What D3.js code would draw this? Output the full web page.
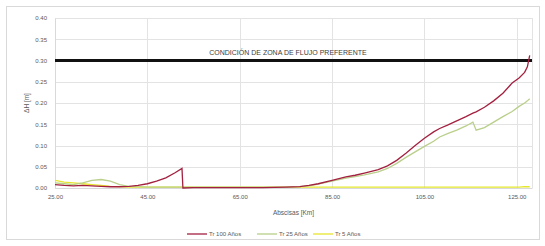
<!DOCTYPE html>
<html>
<head>
<meta charset="utf-8">
<script src="https://cdn.jsdelivr.net/npm/d3@7"></script>
<style>
  html, body { margin: 0; padding: 0; background: #fff; }
  svg { display: block; font-family: "Liberation Sans", Arial, sans-serif; }
</style>
</head>
<body>
<svg id="chart" width="545" height="246"></svg>
<script>
// abscisas (km)
const km = [25, 27, 29, 31, 33, 35, 37, 39, 41, 43, 45, 47, 49, 51, 52.5, 52.7,
  55, 60, 65, 70, 75, 78, 80, 82, 85, 88, 90, 92, 95, 97, 99, 101, 103, 105, 107,
  108.3, 110, 112, 114, 115.5, 116.2, 118, 120, 122, 124, 125.5, 126.7, 127.3, 127.8];

const tr100 = [0.008, 0.006, 0.005, 0.006, 0.005, 0.004, 0.003, 0.003, 0.004, 0.006, 0.010, 0.016, 0.024, 0.036, 0.046, 0.000,
  0.001, 0.001, 0.001, 0.001, 0.002, 0.003, 0.006, 0.010, 0.018, 0.026, 0.030, 0.035, 0.043, 0.052, 0.065, 0.082, 0.100, 0.117, 0.132,
  0.140, 0.148, 0.158, 0.168, 0.176, 0.179, 0.190, 0.205, 0.223, 0.247, 0.259, 0.272, 0.285, 0.312];

const tr25 = [0.012, 0.010, 0.008, 0.012, 0.018, 0.020, 0.016, 0.008, 0.004, 0.003, 0.002, 0.002, 0.002, 0.002, 0.002, 0.002,
  0.002, 0.002, 0.002, 0.002, 0.002, 0.003, 0.005, 0.009, 0.016, 0.023, 0.027, 0.031, 0.038, 0.046, 0.058, 0.072, 0.085, 0.098, 0.110,
  0.120, 0.128, 0.136, 0.146, 0.155, 0.136, 0.142, 0.155, 0.168, 0.180, 0.192, 0.200, 0.205, 0.210];

const tr5 = [0.018, 0.014, 0.012, 0.010, 0.008, 0.006, 0.004, 0.003, 0.002, 0.002, 0.002, 0.002, 0.002, 0.002, 0.002, 0.002,
  0.002, 0.002, 0.002, 0.002, 0.002, 0.002, 0.002, 0.002, 0.002, 0.002, 0.002, 0.002, 0.002, 0.002, 0.002, 0.002, 0.002, 0.002, 0.002,
  0.002, 0.002, 0.002, 0.002, 0.002, 0.002, 0.002, 0.002, 0.002, 0.002, 0.002, 0.003, 0.003, 0.003];

const xTicks = [25, 45, 65, 85, 105, 125];
const yTicks = [0, 0.05, 0.10, 0.15, 0.20, 0.25, 0.30, 0.35, 0.40];
const limite = 0.30;

const series = [
  { name: "Tr 100 Años", values: tr100, color: "#a3203f" },
  { name: "Tr 25 Años", values: tr25, color: "#b9cf8a" },
  { name: "Tr 5 Años", values: tr5, color: "#e6e62e" }
];

const svg = d3.select("#chart");
const mLeft = 55, mRight = 532, mTop = 18, mBottom = 188;

const x = d3.scaleLinear().domain([25, 128.3]).range([mLeft, mRight]);
const y = d3.scaleLinear().domain([0, 0.40]).range([mBottom, mTop]);

// marco exterior
svg.append("rect")
  .attr("x", 6.5).attr("y", 6.5).attr("width", 533).attr("height", 233)
  .attr("fill", "none").attr("stroke", "#d9d9d9");

// cuadricula
svg.append("g").selectAll("line")
  .data(yTicks).enter().append("line")
  .attr("x1", mLeft).attr("x2", mRight)
  .attr("y1", d => Math.round(y(d)) + 0.5).attr("y2", d => Math.round(y(d)) + 0.5)
  .attr("stroke", "#e3e3e3");

svg.append("g").selectAll("line")
  .data(xTicks.concat([128.3])).enter().append("line")
  .attr("y1", mTop).attr("y2", mBottom)
  .attr("x1", d => Math.round(x(d)) + 0.5).attr("x2", d => Math.round(x(d)) + 0.5)
  .attr("stroke", "#e3e3e3");

// ejes
const yAxis = svg.append("g")
  .attr("transform", `translate(${mLeft},0)`)
  .call(d3.axisLeft(y).tickValues(yTicks).tickFormat(d3.format(".2f")).tickSize(0).tickPadding(8));
const xAxis = svg.append("g")
  .attr("transform", `translate(0,${mBottom})`)
  .call(d3.axisBottom(x).tickValues(xTicks).tickFormat(d3.format(".2f")).tickSize(0).tickPadding(7));
[yAxis, xAxis].forEach(g => {
  g.select(".domain").attr("stroke", "#d9d9d9");
  g.selectAll("text").attr("fill", "#595959").style("font-size", "6px");
});

// titulos de ejes
svg.append("text")
  .attr("x", (mLeft + mRight) / 2).attr("y", 215)
  .attr("text-anchor", "middle").attr("fill", "#595959").style("font-size", "6.5px")
  .text("Abscisas [Km]");
svg.append("text")
  .attr("transform", `translate(29,${(mTop + mBottom) / 2}) rotate(-90)`)
  .attr("text-anchor", "middle").attr("fill", "#595959").style("font-size", "6.5px")
  .text("ΔH [m]");

// linea de condicion
svg.append("line")
  .attr("x1", mLeft).attr("x2", mRight)
  .attr("y1", y(limite)).attr("y2", y(limite))
  .attr("stroke", "#111").attr("stroke-width", 3);
svg.append("text")
  .attr("x", 288).attr("y", 55)
  .attr("text-anchor", "middle").attr("fill", "#404040").style("font-size", "7px")
  .text("CONDICIÓN DE ZONA DE FLUJO PREFERENTE");

// series
const line = d3.line()
  .x((d, i) => x(km[i]))
  .y(d => y(d));

svg.append("g").selectAll("path")
  .data(series.slice().reverse()).enter().append("path")
  .attr("d", d => line(d.values))
  .attr("fill", "none")
  .attr("stroke", d => d.color)
  .attr("stroke-width", 1.3);

// leyenda
const legendX = [187, 257, 313];
const legend = svg.append("g").selectAll("g")
  .data(series).enter().append("g")
  .attr("transform", (d, i) => `translate(${legendX[i]},234)`);
legend.append("line")
  .attr("x1", 0).attr("x2", 20)
  .attr("stroke", d => d.color).attr("stroke-width", 1.3);
legend.append("text")
  .attr("x", 22).attr("y", 2)
  .attr("fill", "#595959").style("font-size", "6px")
  .text(d => d.name);
</script>
</body>
</html>
